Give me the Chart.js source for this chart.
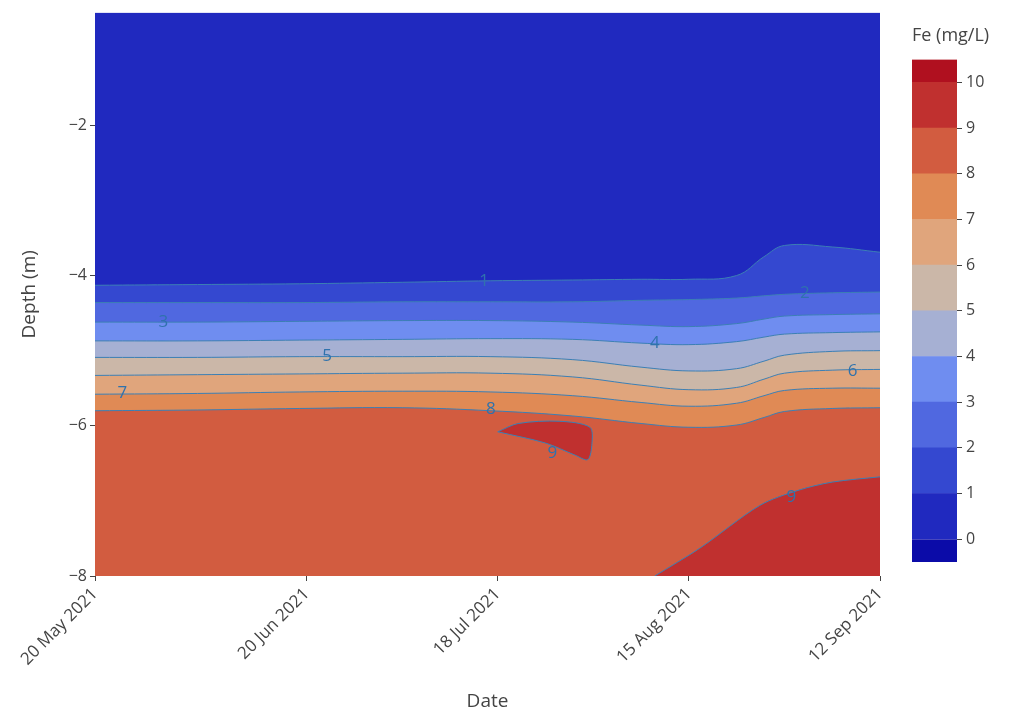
<!DOCTYPE html>
<html><head><meta charset="utf-8">
<script src="https://cdn.jsdelivr.net/npm/chart.js@4/dist/chart.umd.min.js"></script>
<style>
body{margin:0;background:#fff;width:1021px;height:713px;position:relative;overflow:hidden}
#main{position:absolute;left:0;top:0}
#bar{position:absolute;left:895px;top:0}
</style></head><body>
<canvas id="main" width="1021" height="713"></canvas>
<canvas id="bar" width="126" height="713"></canvas>
<script>
// days since 20 May 2021
const tickDays = [0, 31, 59, 87, 115]
const tickNames = ['20 May 2021', '20 Jun 2021', '18 Jul 2021', '15 Aug 2021', '12 Sep 2021']

// contour boundaries: depth (m) of each Fe level along the dates
const contourDays = [0, 15, 30, 45, 58, 70, 80, 87, 94, 98, 101, 108, 115]
const contour1 = [-4.13, -4.12, -4.11, -4.09, -4.07, -4.06, -4.05, -4.05, -4.0, -3.75, -3.6, -3.62, -3.69]
const contour2 = [-4.36, -4.36, -4.36, -4.35, -4.35, -4.35, -4.33, -4.32, -4.3, -4.27, -4.25, -4.23, -4.22]
const contour3 = [-4.62, -4.62, -4.61, -4.6, -4.6, -4.62, -4.66, -4.68, -4.64, -4.58, -4.54, -4.52, -4.51]
const contour4 = [-4.87, -4.87, -4.86, -4.85, -4.84, -4.85, -4.9, -4.92, -4.88, -4.82, -4.78, -4.76, -4.75]
const contour5 = [-5.09, -5.09, -5.08, -5.08, -5.08, -5.12, -5.22, -5.27, -5.24, -5.14, -5.06, -5.01, -5.0]
const contour6 = [-5.33, -5.32, -5.31, -5.3, -5.3, -5.35, -5.46, -5.52, -5.49, -5.38, -5.3, -5.26, -5.25]
const contour7 = [-5.58, -5.57, -5.55, -5.54, -5.55, -5.6, -5.69, -5.74, -5.7, -5.6, -5.53, -5.5, -5.5]
const contour8 = [-5.8, -5.79, -5.77, -5.76, -5.8, -5.87, -5.97, -6.02, -5.99, -5.89, -5.81, -5.77, -5.76]
// closed Fe = 9 patch
const blobDays = [59, 62, 68, 72.5, 72.8, 72.2, 70.3, 66, 59]
const blobDepth = [-6.08, -5.97, -5.94, -6.02, -6.24, -6.45, -6.39, -6.23, -6.08]
// Fe = 9 region at the bottom right
const deepDays = [82, 88.6, 97.4, 103, 108, 115]
const deepDepth = [-8.0, -7.63, -7.06, -6.86, -6.75, -6.68]

const levelColors = ['#2029bf', '#3448d0', '#5068e0', '#6f8df0', '#a6b0d3', '#cbb7a8', '#e0a57c', '#e08a55', '#d25c40', '#c0302f']
const barBands = [[-0.5, 0], [0, 1], [1, 2], [2, 3], [3, 4], [4, 5], [5, 6], [6, 7], [7, 8], [8, 9], [9, 10], [10, 10.5]]
const barColors = ['#0b0ba8', '#2029bf', '#3448d0', '#5068e0', '#6f8df0', '#a6b0d3', '#cbb7a8', '#e0a57c', '#e08a55', '#d25c40', '#c0302f', '#b0101f']

const labelVals = ['1', '2', '3', '4', '5', '6', '7', '8', '9', '9']
const labelDays = [57, 104, 10, 82, 34, 111, 4, 58, 67, 102]
const labelDepth = [-4.08, -4.24, -4.62, -4.9, -5.08, -5.27, -5.56, -5.78, -6.37, -6.95]

const lineCol = '#3c7fb4'
const pts = (xs, ys) => xs.map((x, i) => ({ x, y: ys[i] }))
const contours = [contour1, contour2, contour3, contour4, contour5, contour6, contour7, contour8]

const datasets = [{
  data: [{ x: 0, y: -0.5 }, { x: 115, y: -0.5 }],
  backgroundColor: levelColors[0], borderWidth: 0, fill: 'start', order: 100
}]
contours.forEach((c, i) => datasets.push({
  data: pts(contourDays, c), backgroundColor: levelColors[i + 1],
  borderColor: lineCol, borderWidth: 1, fill: 'start', tension: 0.4, order: 90 - i
}))
datasets.push({ data: pts(deepDays, deepDepth), backgroundColor: levelColors[9], borderColor: lineCol, borderWidth: 1, fill: 'start', tension: 0.3, order: 10 })
datasets.push({ data: pts(blobDays, blobDepth), backgroundColor: levelColors[9], borderColor: lineCol, borderWidth: 1, fill: 'shape', tension: 0.3, order: 5 })

const font = { family: 'Open Sans, Noto Sans, sans-serif' }

new Chart(document.getElementById('main'), {
  type: 'scatter',
  data: { datasets },
  options: {
    responsive: false, animation: false,
    showLine: true,
    elements: { point: { radius: 0 } },
    layout: { padding: { top: 0, right: 141, left: 0, bottom: 0 } },
    plugins: { legend: { display: false }, tooltip: { enabled: false } },
    scales: {
      x: {
        type: 'linear', min: 0, max: 115,
        afterBuildTicks(s) { s.ticks = tickDays.map(v => ({ value: v })) },
        afterFit(s) { s.height = 137 },
        ticks: { minRotation: 45, maxRotation: 45, color: '#444', font: { ...font, size: 17 },
          callback: (v) => tickNames[tickDays.indexOf(v)] },
        grid: { drawOnChartArea: false, tickLength: 5, color: '#444' },
        border: { display: false },
        title: { display: true, text: 'Date', color: '#444', font: { ...font, size: 19 }, padding: 0 }
      },
      y: {
        min: -8, max: -0.5,
        afterBuildTicks(s) { s.ticks = [-8, -6, -4, -2].map(v => ({ value: v })) },
        afterFit(s) { s.width = 95 },
        ticks: { color: '#444', font: { ...font, size: 16 }, callback: v => String(v).replace('-', '\u2212') },
        grid: { drawOnChartArea: false, tickLength: 5, color: '#444' },
        border: { display: false },
        title: { display: true, text: 'Depth (m)', color: '#444', font: { ...font, size: 19 }, padding: { top: 18, bottom: 0 } }
      }
    }
  },
  plugins: [{
    id: 'contourLabels',
    afterDatasetsDraw(chart) {
      const { ctx, scales } = chart
      ctx.save()
      ctx.font = '17px Open Sans, sans-serif'
      ctx.fillStyle = '#2f72ad'
      ctx.textAlign = 'center'; ctx.textBaseline = 'middle'
      labelVals.forEach((t, i) => ctx.fillText(t, scales.x.getPixelForValue(labelDays[i]), scales.y.getPixelForValue(labelDepth[i])))
      ctx.restore()
    }
  }]
})

new Chart(document.getElementById('bar'), {
  type: 'bar',
  data: {
    labels: ['Fe'],
    datasets: barBands.map((b, i) => ({ data: [b], backgroundColor: barColors[i], barPercentage: 1, categoryPercentage: 1, grouped: false }))
  },
  options: {
    responsive: false, animation: false,
    layout: { padding: { top: 0, bottom: 151, left: 17, right: 0 } },
    plugins: {
      legend: { display: false }, tooltip: { enabled: false },
      title: { display: true, text: 'Fe (mg/L)', align: 'start', color: '#444', font: { ...font, size: 18, weight: 'normal' }, padding: { top: 25, bottom: 13 } }
    },
    scales: {
      x: { display: false },
      y: {
        position: 'right', min: -0.5, max: 10.5,
        afterBuildTicks(s) { s.ticks = [0,1,2,3,4,5,6,7,8,9,10].map(v => ({ value: v })) },
        afterFit(s) { s.width = 64 },
        ticks: { color: '#444', font: { ...font, size: 16 }, padding: 4 },
        grid: { drawOnChartArea: false, tickLength: 5, color: '#444' },
        border: { display: false }
      }
    }
  }
})
</script>
</body></html>
